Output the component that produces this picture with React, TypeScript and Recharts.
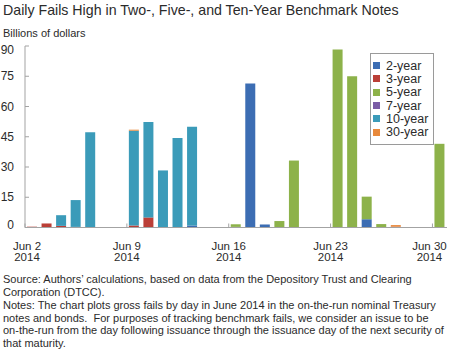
import React from 'react';
import { BarChart, Bar, XAxis, YAxis, Legend } from 'recharts';

const days = [2, 3, 4, 5, 6, 9, 10, 11, 12, 13, 16, 17, 18, 19, 20, 23, 24, 25, 26, 27, 30];
const twoYear = [0, 0, 0, 0, 0, 0, 0, 0, 0, 1, 0.3, 71.4, 1.5, 0, 0, 0, 0, 4.1, 0, 0, 0];
const threeYear = [0.4, 2, 0.8, 0.3, 0, 1, 5, 0, 0, 0, 0, 0, 0, 0, 0, 0, 0, 0, 0, 0.4, 0];
const fiveYear = [0, 0, 0, 0, 0, 0, 0, 0, 0, 0, 1.3, 0, 0, 3.2, 33.2, 88.3, 75, 11.2, 1.7, 0, 41.5];
const sevenYear = [0, 0, 0, 0, 0, 0, 0, 0, 0, 0, 0, 0, 0, 0, 0, 0, 0, 0, 0, 0, 0];
const tenYear = [0, 0, 5.3, 13.3, 47.2, 47, 47.3, 28.3, 44.4, 49, 0, 0, 0, 0, 0, 0, 0, 0, 0, 0, 0];
const thirtyYear = [0, 0, 0, 0, 0, 0.5, 0, 0, 0, 0, 0, 0, 0, 0, 0, 0, 0, 0, 0, 0.8, 0];

const yTicks = [0, 15, 30, 45, 60, 75, 90];
const xTickDays = [2, 9, 16, 23, 30];

const series = [
  { key: 'y2', name: '2-year', color: '#3c6db3', values: twoYear },
  { key: 'y3', name: '3-year', color: '#bb3f37', values: threeYear },
  { key: 'y5', name: '5-year', color: '#8db24a', values: fiveYear },
  { key: 'y7', name: '7-year', color: '#7a5ca5', values: sevenYear },
  { key: 'y10', name: '10-year', color: '#3b9bb9', values: tenYear },
  { key: 'y30', name: '30-year', color: '#e8893b', values: thirtyYear },
];

// bars sit in the middle of each day, ticks mark the start of the day
const chartData = days.map((d, i) => {
  const row: any = { x: d - 2 + 0.5 };
  series.forEach((s) => {
    row[s.key] = s.values[i];
  });
  return row;
});

const font = '"Liberation Sans", Arial, sans-serif';
const axisColor = '#a3a3a3';
const textColor = '#2b2b2b';

const LeftTick = (props: any) => {
  const { x, y, payload } = props;
  const v = payload.value;
  const shift = v === 90 ? 4 : v === 0 ? -3 : 0;
  return (
    <text x={x} y={y + shift} dy={4} textAnchor="end" fontSize={12} fill={textColor} fontFamily={font}>
      {v}
    </text>
  );
};

const DateTick = (props: any) => {
  const { x, y, payload } = props;
  const day = payload.value + 2;
  const dx = day === 2 ? 2 : day === 30 ? -3 : 0;
  return (
    <text x={x + dx} textAnchor="middle" fontSize={11.5} fill={textColor} fontFamily={font}>
      <tspan x={x + dx} y={y + 22}>{`Jun ${day}`}</tspan>
      <tspan x={x + dx} y={y + 33}>2014</tspan>
    </text>
  );
};

const renderLegend = () => (
  <div
    style={{
      border: '1px solid #9a9a9a',
      background: '#fff',
      padding: '5px 4px 5px 2px',
      width: 56,
      fontFamily: font,
      fontSize: 12.5,
      color: textColor,
    }}
  >
    {series.map((s) => (
      <div key={s.key} style={{ display: 'flex', alignItems: 'center', height: 13.3, whiteSpace: 'nowrap' }}>
        <span style={{ width: 7, height: 7, background: s.color, marginRight: 6, display: 'inline-block' }} />
        {s.name}
      </div>
    ))}
  </div>
);

export default function App() {
  return (
    <div style={{ position: 'absolute', left: 0, top: 0, width: 450, height: 352, background: '#fff', fontFamily: font, color: textColor }}>
      <div style={{ position: 'absolute', left: 3, top: 2, fontSize: 14.2, whiteSpace: 'nowrap' }}>
        Daily Fails High in Two-, Five-, and Ten-Year Benchmark Notes
      </div>
      <div style={{ position: 'absolute', left: 3, top: 27, fontSize: 11, whiteSpace: 'nowrap' }}>Billions of dollars</div>
      <div style={{ position: 'absolute', left: 0, top: 0 }}>
        <BarChart width={450} height={265} data={chartData} margin={{ top: 46, right: 3, left: 0, bottom: 7.5 }}>
          <XAxis
            dataKey="x"
            type="number"
            domain={[0, 29]}
            ticks={xTickDays.map((d) => d - 2)}
            height={30}
            stroke={axisColor}
            tickSize={-4}
            tickMargin={4}
            tick={<DateTick />}
            allowDataOverflow
          />
          <XAxis xAxisId="top" orientation="top" type="number" domain={[0, 29]} height={0} tick={false} tickLine={false} stroke={axisColor} />
          <YAxis
            domain={[0, 90]}
            ticks={yTicks}
            width={25}
            stroke={axisColor}
            tickSize={-4}
            tickMargin={15}
            tick={<LeftTick />}
          />
          <YAxis yAxisId="right" orientation="right" domain={[0, 90]} ticks={yTicks} width={0} stroke={axisColor} tickSize={-4} tick={false} />
          <Legend
            verticalAlign="middle"
            align="center"
            content={renderLegend}
            wrapperStyle={{ left: 370, top: 53, width: 64 }}
          />
          {series.map((s) => (
            <Bar key={s.key} dataKey={s.key} name={s.name} stackId="a" fill={s.color} barSize={10} isAnimationActive={false} />
          ))}
        </BarChart>
      </div>
      <div style={{ position: 'absolute', left: 3, top: 273, fontSize: 11, lineHeight: '12.5px', whiteSpace: 'nowrap' }}>
        <div>Source: Authors’ calculations, based on data from the Depository Trust and Clearing</div>
        <div>Corporation (DTCC).</div>
        <div style={{ marginTop: 1 }}>Notes: The chart plots gross fails by day in June 2014 in the on-the-run nominal Treasury</div>
        <div>notes and bonds.&nbsp; For purposes of tracking benchmark fails, we consider an issue to be</div>
        <div>on-the-run from the day following issuance through the issuance day of the next security of</div>
        <div>that maturity.</div>
      </div>
    </div>
  );
}
